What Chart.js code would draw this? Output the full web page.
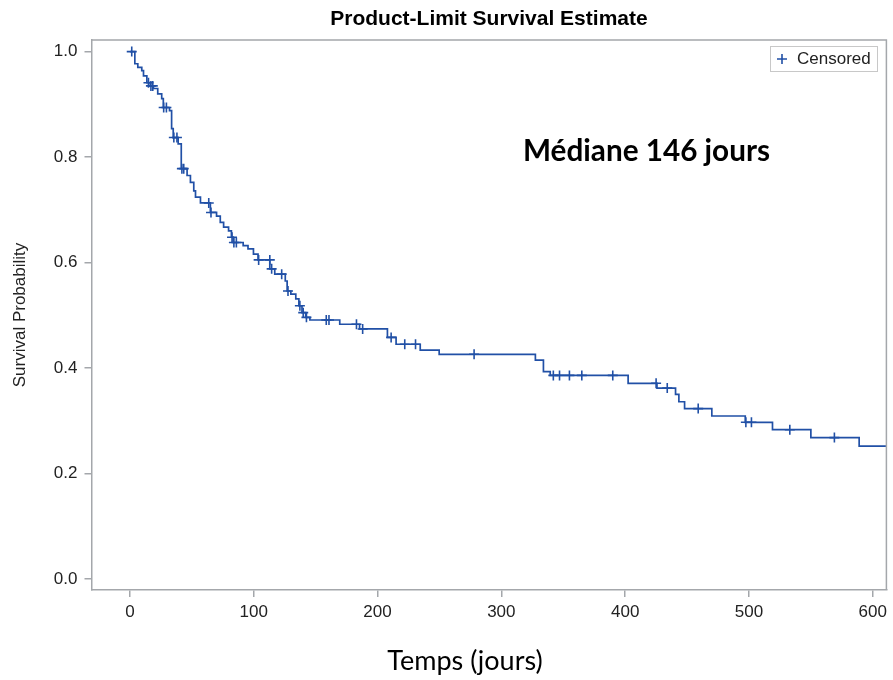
<!DOCTYPE html>
<html>
<head>
<meta charset="utf-8">
<script src="https://cdn.jsdelivr.net/npm/chart.js@4.4.1/dist/chart.umd.min.js"></script>
<style>
html,body{margin:0;padding:0;background:#fff}
#wrap{width:893px;height:680px}
</style>
</head>
<body>
<div id="wrap"><canvas id="c" width="893" height="680"></canvas></div>
<script>
// Kaplan-Meier steps: day of the drop and survival after it
var stepDays = [0,4,6.4,9.6,11,13.7,16.5,19,22.5,25.7,27,32,33.7,35,39,41.5,46.2,48.9,51.6,53,57,65,70,73,75.7,79.7,82,83.5,91.5,95.4,99.8,103.5,113,117,125.5,127,130,134,136.5,139,142,145.4,169.5,185.5,208,215,234.5,249.8,327.5,334,339.5,402.4,425.7,440.7,443.4,448,470,497,519,550,589];
var stepSurv = [1.0,0.977,0.970,0.964,0.954,0.941,0.935,0.930,0.920,0.911,0.894,0.888,0.854,0.837,0.825,0.778,0.765,0.752,0.736,0.724,0.713,0.695,0.688,0.676,0.667,0.660,0.648,0.638,0.632,0.626,0.616,0.605,0.588,0.578,0.565,0.546,0.540,0.531,0.518,0.505,0.496,0.491,0.483,0.474,0.458,0.445,0.434,0.426,0.415,0.393,0.386,0.371,0.362,0.350,0.336,0.323,0.309,0.297,0.283,0.268,0.252];
var lastDay = 612;

// censored patients
var censorDays = [1.5,15,17,18.5,27.3,29.5,35.5,38,42,43.5,63.7,65.5,82.5,84,86,104,113,114.5,122.6,127.7,137.3,140,142.6,158.6,160.8,183,188,211,222,230.7,278,342,347,355,365,390,425,434,459,497.5,502,533,569];
var censorSurv = [1.0,0.941,0.935,0.935,0.894,0.894,0.837,0.837,0.778,0.778,0.713,0.695,0.648,0.638,0.638,0.605,0.605,0.588,0.578,0.546,0.518,0.505,0.496,0.491,0.491,0.483,0.474,0.458,0.445,0.445,0.426,0.386,0.386,0.386,0.386,0.386,0.371,0.362,0.323,0.297,0.297,0.283,0.268];

var xTicks = [0,100,200,300,400,500,600];
var yTicks = [0,0.2,0.4,0.6,0.8,1.0];

var blue = '#2150a6';
var frame = '#a4a7ab';
var sans = '"Liberation Sans", Arial, sans-serif';

var curve = stepDays.map(function(d,i){ return {x:d, y:stepSurv[i]}; });
curve.push({x:lastDay, y:stepSurv[stepSurv.length-1]});
var marks = censorDays.map(function(d,i){ return {x:d, y:censorSurv[i]}; });

var extras = {
  id: 'extras',
  afterDraw: function(chart){
    var ctx = chart.ctx, a = chart.chartArea;
    ctx.save();
    // top and right sides of the frame
    ctx.strokeStyle = frame;
    ctx.lineWidth = 1.5;
    ctx.beginPath();
    ctx.moveTo(a.left, a.top);
    ctx.lineTo(a.right, a.top);
    ctx.lineTo(a.right, a.bottom);
    ctx.stroke();

    // title
    ctx.fillStyle = '#000';
    ctx.font = 'bold 21px ' + sans;
    ctx.textAlign = 'center';
    ctx.textBaseline = 'middle';
    ctx.fillText('Product-Limit Survival Estimate', (a.left + a.right)/2, 19);

    // y title
    ctx.save();
    ctx.translate(20, (a.top + a.bottom)/2);
    ctx.rotate(-Math.PI/2);
    ctx.fillStyle = '#222';
    ctx.font = '17px ' + sans;
    ctx.fillText('Survival Probability', 0, 0);
    ctx.restore();

    // x title
    ctx.fillStyle = '#000';
    ctx.font = '27px Lato, "Open Sans", sans-serif';
    ctx.fillText('Temps (jours)', 465, 661);

    // median note
    ctx.font = 'bold 29.7px Lato, "Open Sans", sans-serif';
    ctx.textAlign = 'left';
    ctx.fillText('Médiane 146 jours', 523, 151);

    // legend
    ctx.strokeStyle = '#c8c8c8';
    ctx.lineWidth = 1;
    ctx.strokeRect(770.5, 46.5, 107, 25);
    ctx.strokeStyle = blue;
    ctx.lineWidth = 1.6;
    ctx.beginPath();
    ctx.moveTo(777, 59); ctx.lineTo(787, 59);
    ctx.moveTo(782, 54); ctx.lineTo(782, 64);
    ctx.stroke();
    ctx.fillStyle = '#222';
    ctx.font = '17px ' + sans;
    ctx.fillText('Censored', 797, 59.5);
    ctx.restore();
  }
};

new Chart(document.getElementById('c'), {
  data: {
    datasets: [
      {
        type: 'line',
        label: 'Survival',
        data: curve,
        stepped: 'before',
        borderColor: blue,
        borderWidth: 1.7,
        pointRadius: 0,
        fill: false
      },
      {
        type: 'scatter',
        label: 'Censored',
        data: marks,
        pointStyle: 'cross',
        pointRadius: 5,
        borderColor: blue,
        borderWidth: 1.6,
        backgroundColor: blue
      }
    ]
  },
  options: {
    responsive: false,
    animation: false,
    layout: { padding: { top: 40, right: 6, left: 0, bottom: 0 } },
    plugins: {
      legend: { display: false },
      tooltip: { enabled: false },
      title: { display: false }
    },
    scales: {
      x: {
        type: 'linear',
        min: -31,
        max: 611,
        afterBuildTicks: function(s){ s.ticks = xTicks.map(function(v){ return {value:v}; }); },
        afterFit: function(s){ s.height = 90; },
        grid: { drawOnChartArea: false, drawTicks: true, tickLength: 7, color: frame, lineWidth: 1.5 },
        border: { display: true, color: frame, width: 1.5 },
        ticks: {
          color: '#222',
          padding: 5,
          maxRotation: 0,
          font: { family: sans, size: 17 },
          callback: function(v){ return v; }
        }
      },
      y: {
        type: 'linear',
        min: -0.021,
        max: 1.022,
        afterBuildTicks: function(s){ s.ticks = yTicks.map(function(v){ return {value:v}; }); },
        afterFit: function(s){ s.width = 91.5; },
        grid: { drawOnChartArea: false, drawTicks: true, tickLength: 7, color: frame, lineWidth: 1.5 },
        border: { display: true, color: frame, width: 1.5 },
        ticks: {
          color: '#222',
          padding: 7,
          font: { family: sans, size: 17 },
          callback: function(v){ return v.toFixed(1); }
        }
      }
    }
  },
  plugins: [extras]
});
</script>
</body>
</html>
